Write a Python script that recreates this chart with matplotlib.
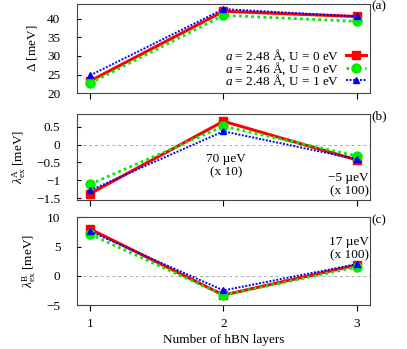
import numpy as np
import matplotlib
matplotlib.use('Agg')
import matplotlib.pyplot as plt

plt.rcParams['font.family'] = 'Liberation Serif'
plt.rcParams['mathtext.fontset'] = 'custom'
plt.rcParams['mathtext.rm'] = 'Liberation Serif'
plt.rcParams['mathtext.it'] = 'Liberation Serif:italic'
plt.rcParams['font.size'] = 9.5

layers = [1, 2, 3]
series_labels = [r'$a$ = 2.48 Å, U = 0 eV',
                 r'$a$ = 2.46 Å, U = 0 eV',
                 r'$a$ = 2.48 Å, U = 1 eV']

gap_vals   = [[23.3, 42.0, 40.6], [22.7, 40.9, 39.3], [24.8, 42.6, 40.6]]
lam_a_vals = [[-1.37, 0.65, -0.43], [-1.11, 0.51, -0.32], [-1.28, 0.37, -0.41]]
lam_b_vals = [[8.0, -3.3, 1.85], [7.1, -3.3, 1.5], [7.6, -2.5, 2.0]]

styles = [
    dict(color='#ff0000', ls='-', lw=2.2, marker='s', ms=6),
    dict(color='#00ee00', ls=(0, (1, 1.2)), lw=2.0, marker='o', ms=6.5),
    dict(color='#0000ff', ls=(0, (1, 0.8)), lw=1.4, marker='^', ms=5),
]

fig = plt.figure(figsize=(4.07, 3.49), dpi=100)
ax_a = fig.add_axes([0.189, 0.733, 0.720, 0.256])
ax_b = fig.add_axes([0.189, 0.427, 0.720, 0.246])
ax_c = fig.add_axes([0.189, 0.126, 0.720, 0.251])


def draw(ax, vals, ylim, yticks, ylabel, tag, zero=False):
    if zero:
        ax.axhline(0, color='#aaaaaa', lw=0.7, ls=(0, (3, 3)), zorder=0)
    for v, st, lab in zip(vals, styles, series_labels):
        ax.plot(layers, v, label=lab, **st)
    ax.set_xlim(0.9, 3.1)
    ax.set_ylim(*ylim)
    ax.set_yticks(yticks)
    ax.set_xticks(layers)
    ax.tick_params(axis='y', direction='in', length=3, pad=12)
    ax.tick_params(axis='x', direction='out', length=4, pad=5)
    ax.set_ylabel(ylabel, labelpad=6)
    ax.text(1.005, 0.97, tag, transform=ax.transAxes, ha='left', va='center')
    for s in ax.spines.values():
        s.set_linewidth(0.8)
        s.set_color('#444444')


draw(ax_a, gap_vals, (20, 44), [20, 25, 30, 35, 40], r'$\Delta$ [meV]', '(a)')
draw(ax_b, lam_a_vals, (-1.55, 0.85), [-1.5, -1, -0.5, 0, 0.5],
     r'$\lambda_{\rm ex}^{\rm A}$ [meV]', '(b)', zero=True)
draw(ax_c, lam_b_vals, (-5, 10), [-5, 0, 5, 10],
     r'$\lambda_{\rm ex}^{\rm B}$ [meV]', '(c)', zero=True)

ax_b.set_yticklabels(['−1.5', '−1', '−0.5', '0', '0.5'])
ax_c.set_yticklabels(['−5', '0', '5', '10'])
ax_a.set_xticklabels([])
ax_b.set_xticklabels([])
ax_c.set_xlabel('Number of hBN layers', labelpad=3)

ax_a.legend(loc='lower right', markerfirst=False, frameon=False,
            handlelength=1.5, handletextpad=0.5, labelspacing=-0.3,
            borderaxespad=0.1, borderpad=0.2, fontsize=9.5)

ax_b.text(2.02, -0.6, '70 µeV\n(x 10)', ha='center', va='center',
          linespacing=1.15)
ax_b.text(3.09, -1.12, '−5 µeV\n(x 100)', ha='right', va='center',
          linespacing=1.15)
ax_c.text(3.09, 4.6, '17 µeV\n(x 100)', ha='right', va='center',
          linespacing=1.15)

plt.savefig('out.png', dpi=100)
plt.close()
